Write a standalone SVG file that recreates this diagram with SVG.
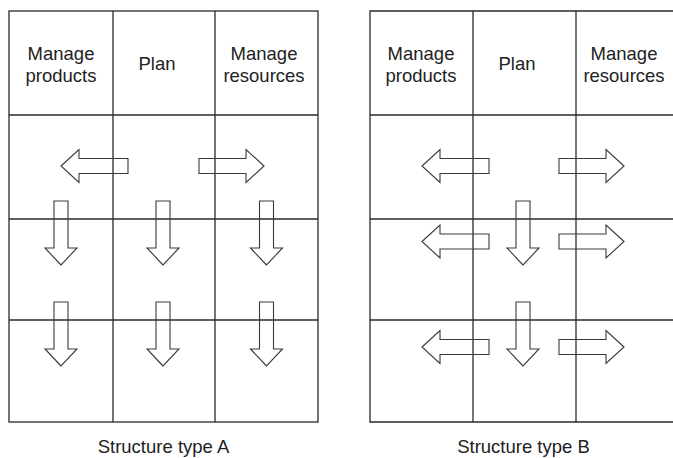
<svg xmlns="http://www.w3.org/2000/svg" width="673" height="458" viewBox="0 0 673 458">
<defs>
<style>
.grid{stroke:#2a2a2a;stroke-width:1.3;fill:none}
.arr{stroke:#3a3a3a;stroke-width:1.1;fill:none;stroke-linejoin:miter}
.t{font-family:"Liberation Sans",Arial,sans-serif;font-size:18.5px;fill:#222;text-anchor:middle}
</style>
<polygon id="la" points="0,0 18,-16.5 18,-7.5 67,-7.5 67,7.5 18,7.5 18,16.5"/>
<polygon id="ra" points="0,0 -18,-16.5 -18,-7.5 -65,-7.5 -65,7.5 -18,7.5 -18,16.5"/>
<polygon id="da" points="0,0 -16,-17 -7,-17 -7,-64 7,-64 7,-17 16,-17"/>
</defs>
<rect width="673" height="458" fill="#fff"/>
<g id="gridA" class="grid">
<rect x="9" y="11" width="309" height="411"/>
<line x1="113" y1="11" x2="113" y2="422"/>
<line x1="215" y1="11" x2="215" y2="422"/>
<line x1="9" y1="115" x2="318" y2="115"/>
<line x1="9" y1="219" x2="318" y2="219"/>
<line x1="9" y1="320" x2="318" y2="320"/>
</g>
<g id="gridB" class="grid">
<polyline points="673,11 370,11 370,422 673,422"/>
<line x1="473" y1="11" x2="473" y2="422"/>
<line x1="576" y1="11" x2="576" y2="422"/>
<line x1="370" y1="115" x2="673" y2="115"/>
<line x1="370" y1="219" x2="673" y2="219"/>
<line x1="370" y1="320" x2="673" y2="320"/>
</g>
<g id="A-products"><text class="t" x="61" y="60">Manage</text><text class="t" x="61" y="82">products</text></g>
<g id="A-plan"><text class="t" x="157" y="70">Plan</text></g>
<g id="A-resources"><text class="t" x="264" y="60">Manage</text><text class="t" x="264" y="82">resources</text></g>
<g id="B-products"><text class="t" x="421" y="60">Manage</text><text class="t" x="421" y="82">products</text></g>
<g id="B-plan"><text class="t" x="517" y="70">Plan</text></g>
<g id="B-resources"><text class="t" x="624" y="60">Manage</text><text class="t" x="624" y="82">resources</text></g>
<g id="connectors" class="arr">
<use href="#la" x="61" y="166"/>
<use href="#ra" x="264" y="166"/>
<use href="#da" x="61" y="265"/>
<use href="#da" x="163" y="265"/>
<use href="#da" x="266.5" y="265"/>
<use href="#da" x="61" y="366"/>
<use href="#da" x="163" y="366"/>
<use href="#da" x="266.5" y="366"/>
<use href="#la" x="422" y="166"/>
<use href="#ra" x="624" y="166"/>
<use href="#la" x="422" y="241.5"/>
<use href="#ra" x="624" y="241.5"/>
<use href="#la" x="422" y="347"/>
<use href="#ra" x="624" y="347"/>
<use href="#da" x="523" y="265"/>
<use href="#da" x="523" y="366"/>
</g>
<g id="captions">
<text class="t" x="163.5" y="453">Structure type A</text>
<text class="t" x="523.5" y="453">Structure type B</text>
</g>
</svg>
